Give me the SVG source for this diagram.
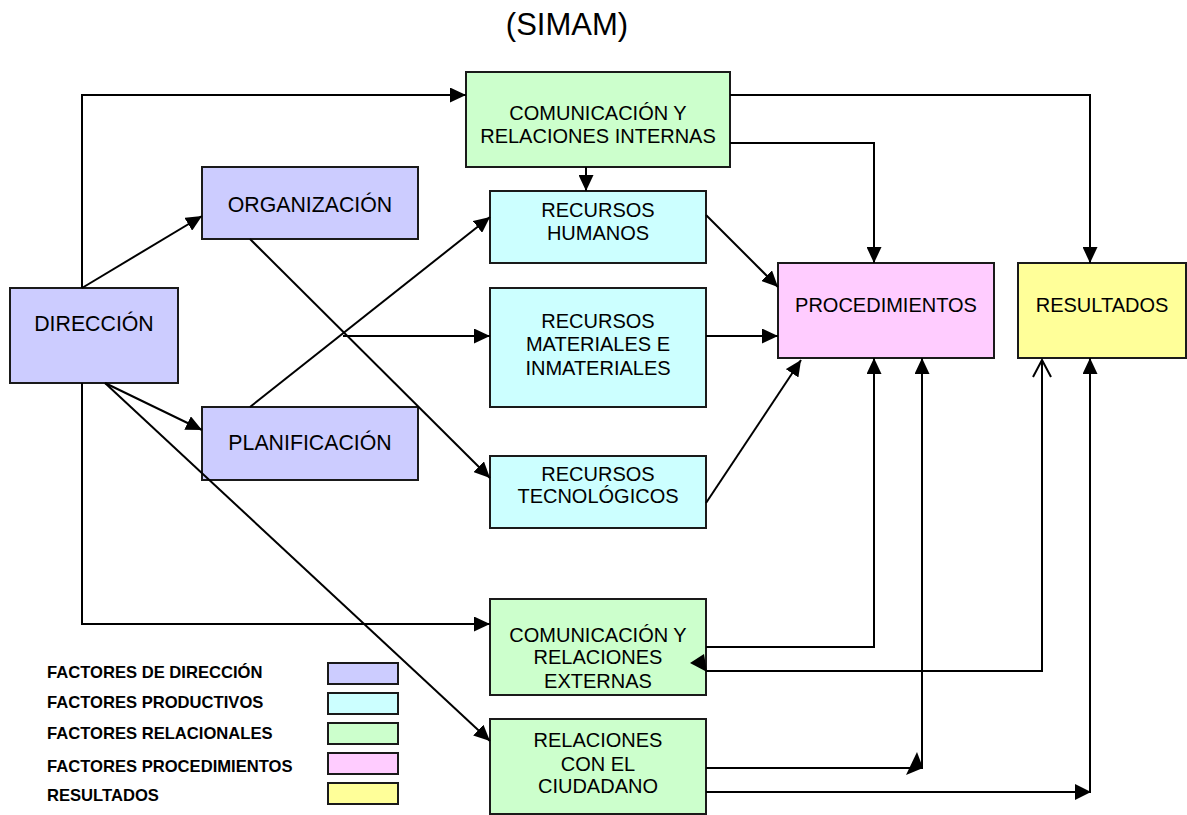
<svg xmlns="http://www.w3.org/2000/svg" width="1187" height="815" viewBox="0 0 1187 815">
<defs>
<style>
.bx{stroke:#1a1a1a;stroke-width:2}
.dir{fill:#CCCCFF}.prod{fill:#CCFFFF}.rel{fill:#CCFFCC}.proc{fill:#FFCCFF}.res{fill:#FFFF99}
.t{font-family:"Liberation Sans",Arial,sans-serif;font-size:20px;fill:#000;text-anchor:middle}
.t2{font-size:21.3px}
.lg{font-family:"Liberation Sans",Arial,sans-serif;font-size:16.6px;font-weight:bold;fill:#000}
.ttl{font-family:"Liberation Sans",Arial,sans-serif;font-size:31px;fill:#000;text-anchor:middle}
.c{fill:none;stroke:#000;stroke-width:2}
.a{marker-end:url(#ah)}
.ah{fill:#000;stroke:none}
</style>
<marker id="ah" markerUnits="userSpaceOnUse" markerWidth="16" markerHeight="15" refX="16" refY="7.5" orient="auto">
<path d="M0,0 L16,7.5 L0,15 z" fill="#000"/>
</marker>
<marker id="oh" markerUnits="userSpaceOnUse" markerWidth="20" markerHeight="22" refX="18" refY="11" orient="auto-start-reverse">
<path d="M1,2 L18,11 L1,20" fill="none" stroke="#000" stroke-width="2"/>
</marker>
</defs>
<rect width="1187" height="815" fill="#fff"/>
<text class="ttl" x="567" y="35">(SIMAM)</text>

<g id="direccion"><rect class="bx dir" x="10" y="288" width="168" height="95"/><text class="t t2" x="94" y="331">DIRECCIÓN</text></g>
<g id="organizacion"><rect class="bx dir" x="202" y="167" width="216" height="72"/><text class="t t2" x="310" y="212">ORGANIZACIÓN</text></g>
<g id="planificacion"><rect class="bx dir" x="202" y="407" width="216" height="73"/><text class="t t2" x="310" y="450">PLANIFICACIÓN</text></g>
<g id="com-internas"><rect class="bx rel" x="466" y="72" width="264" height="95"/><text class="t" x="598" y="120">COMUNICACIÓN Y</text><text class="t" x="598" y="143">RELACIONES INTERNAS</text></g>
<g id="rrhh"><rect class="bx prod" x="490" y="191" width="216" height="72"/><text class="t" x="598" y="217">RECURSOS</text><text class="t" x="598" y="240">HUMANOS</text></g>
<g id="materiales"><rect class="bx prod" x="490" y="288" width="216" height="119"/><text class="t" x="598" y="328">RECURSOS</text><text class="t" x="598" y="351">MATERIALES E</text><text class="t" x="598" y="375">INMATERIALES</text></g>
<g id="tecnologicos"><rect class="bx prod" x="490" y="456" width="216" height="72"/><text class="t" x="598" y="481">RECURSOS</text><text class="t" x="598" y="503">TECNOLÓGICOS</text></g>
<g id="procedimientos"><rect class="bx proc" x="778" y="263" width="216" height="95"/><text class="t" x="886" y="312">PROCEDIMIENTOS</text></g>
<g id="resultados"><rect class="bx res" x="1018" y="263" width="168" height="95"/><text class="t" x="1102" y="312">RESULTADOS</text></g>
<g id="com-externas"><rect class="bx rel" x="490" y="599" width="216" height="96"/><text class="t" x="598" y="642">COMUNICACIÓN Y</text><text class="t" x="598" y="664">RELACIONES</text><text class="t" x="598" y="688">EXTERNAS</text></g>
<g id="ciudadano"><rect class="bx rel" x="490" y="719" width="216" height="95"/><text class="t" x="598" y="747">RELACIONES</text><text class="t" x="598" y="771">CON EL</text><text class="t" x="598" y="793">CIUDADANO</text></g>

<g id="connectors">
<path class="c a" d="M82,288 V95 H466"/>
<path class="c a" d="M82,288 L202,216"/>
<path class="c a" d="M105,383 L202,430"/>
<path class="c a" d="M105,383 L490,741"/>
<path class="c a" d="M82,383 V624 H490"/>
<path class="c a" d="M250,239 L490,478"/>
<path class="c a" d="M250,407 L490,217"/>
<path class="c a" d="M343,336 H490"/>
<path class="c a" d="M586,167 V191"/>
<path class="c a" d="M730,143 H874 V263"/>
<path class="c a" d="M730,95 H1090 V263"/>
<path class="c a" d="M706,215 L778,287"/>
<path class="c a" d="M706,336 H778"/>
<path class="c a" d="M706,503 L801,360"/>
<path class="c a" d="M706,647 H874 V358"/>
<path class="c" d="M1042,360 V671 H706" marker-start="url(#oh)"/>
<polygon class="ah" points="690,663 704,654 707,672"/>
<path class="c a" d="M706,768 H922 V358"/>
<polygon class="ah" points="906,775 917,752 923,768"/>
<path class="c a" d="M706,792 H1090 V358"/>
<polygon class="ah" points="1075,784 1091,792 1075,800"/>
</g>

<g id="legend">
<text class="lg" x="47" y="678">FACTORES DE DIRECCIÓN</text>
<text class="lg" x="47" y="708">FACTORES PRODUCTIVOS</text>
<text class="lg" x="47" y="739">FACTORES RELACIONALES</text>
<text class="lg" x="47" y="772">FACTORES PROCEDIMIENTOS</text>
<text class="lg" x="47" y="801">RESULTADOS</text>
<rect class="bx dir" x="328" y="663" width="70" height="21"/>
<rect class="bx prod" x="328" y="693" width="70" height="21"/>
<rect class="bx rel" x="328" y="723" width="70" height="21"/>
<rect class="bx proc" x="328" y="753" width="70" height="21"/>
<rect class="bx res" x="328" y="783" width="70" height="21"/>
</g>
</svg>
